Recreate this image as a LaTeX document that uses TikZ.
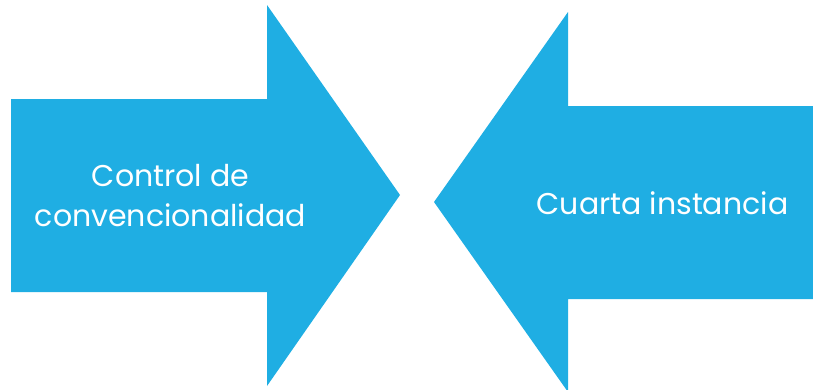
\documentclass[tikz,border=0pt]{standalone}
\usepackage{fontspec}
\setmainfont{Poppins}
\definecolor{arrowblue}{RGB}{31,174,227}
\begin{document}
\begin{tikzpicture}[x=1pt,y=-1pt,
  arrowshape/.style={fill=arrowblue,draw=none},
  label/.style={text=white,font=\fontsize{30}{40}\selectfont,align=center,inner sep=0pt}]
\useasboundingbox (0,0) rectangle (813,389);
\fill[arrowshape] (11,99) -- (267,99) -- (267,5) -- (400,195) -- (267,386) -- (267,292) -- (11,292) -- cycle;
\fill[arrowshape] (813,106) -- (568,106) -- (568,12) -- (434,202) -- (568,392) -- (568,299) -- (813,299) -- cycle;
\node[label] (left) at (170.5,196) {Control de\\convencionalidad};
\node[label] (right) at (662.5,203) {Cuarta instancia};
\end{tikzpicture}
\end{document}
